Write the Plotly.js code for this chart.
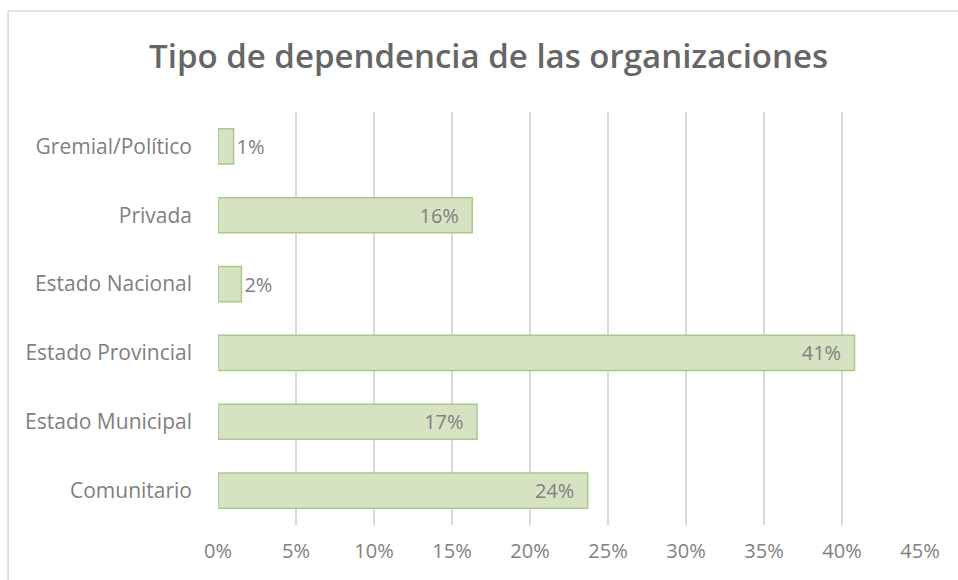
<!DOCTYPE html>
<html>
<head>
<meta charset="utf-8">
<script src="https://cdn.plot.ly/plotly-3.0.1.min.js"></script>
<style>html,body{margin:0;padding:0;background:#fff;}#chart{width:958px;height:580px;}</style>
</head>
<body>
<div id="chart"></div>
<script>
// Categories listed top to bottom
const categories = ["Gremial/Político", "Privada", "Estado Nacional", "Estado Provincial", "Estado Municipal", "Comunitario"];
const shares = [0.010, 0.163, 0.015, 0.408, 0.166, 0.237];
const shareLabels = ["1%", "16%", "2%", "41%", "17%", "24%"];
const xTickValues = [0, 0.05, 0.10, 0.15, 0.20, 0.25, 0.30, 0.35, 0.40, 0.45];
const xTickLabels = ["0%", "5%", "10%", "15%", "20%", "25%", "30%", "35%", "40%", "45%"];

const FONT = "'Open Sans', 'Liberation Sans', sans-serif";
const GRAY = "#808080";
const PAD = "\u00a0\u00a0";

const trace = {
  type: "bar",
  orientation: "h",
  y: categories,
  x: shares,
  text: shareLabels,
  textposition: ["outside", "inside", "outside", "inside", "inside", "inside"],
  texttemplate: ["%{text}", "%{text}" + PAD, "%{text}", "%{text}" + PAD, "%{text}" + PAD, "%{text}" + PAD],
  insidetextanchor: "end",
  cliponaxis: false,
  constraintext: "none",
  insidetextfont: {family: FONT, size: 20, color: GRAY},
  outsidetextfont: {family: FONT, size: 20, color: GRAY},
  marker: {color: "#d6e3c3", line: {color: "#a8c98a", width: 1.5}},
  hoverinfo: "none"
};

const layout = {
  width: 958,
  height: 580,
  margin: {l: 218, r: 38, t: 112, b: 55},
  paper_bgcolor: "#ffffff",
  plot_bgcolor: "#ffffff",
  showlegend: false,
  bargap: 0.49,
  title: {
    text: "Tipo de dependencia de las organizaciones",
    font: {family: FONT, size: 33, color: "#666666", weight: 600},
    x: 0.51, xanchor: "center", y: 0.902, yanchor: "middle"
  },
  xaxis: {
    range: [0, 0.45],
    tickvals: xTickValues,
    ticktext: xTickLabels,
    showgrid: true,
    gridcolor: "#d9d9d9",
    gridwidth: 1.5,
    zeroline: false,
    showline: false,
    ticks: "",
    ticklabelstandoff: 12,
    tickfont: {family: FONT, size: 20, color: GRAY},
    fixedrange: true
  },
  yaxis: {
    autorange: "reversed",
    type: "category",
    showgrid: false,
    zeroline: false,
    showline: false,
    ticks: "",
    ticklabelstandoff: 25,
    tickfont: {family: FONT, size: 21, color: GRAY},
    fixedrange: true
  },
  shapes: [
    {type: "line", xref: "paper", yref: "paper", x0: -0.299, x1: 1.2, y0: 1.2446, y1: 1.2446, line: {color: "#d9d9d9", width: 1.5}},
    {type: "line", xref: "paper", yref: "paper", x0: -0.299, x1: -0.299, y0: -0.2, y1: 1.2446, line: {color: "#d9d9d9", width: 1.5}}
  ]
};

Plotly.newPlot("chart", [trace], layout, {displayModeBar: false, staticPlot: true});
</script>
</body>
</html>
